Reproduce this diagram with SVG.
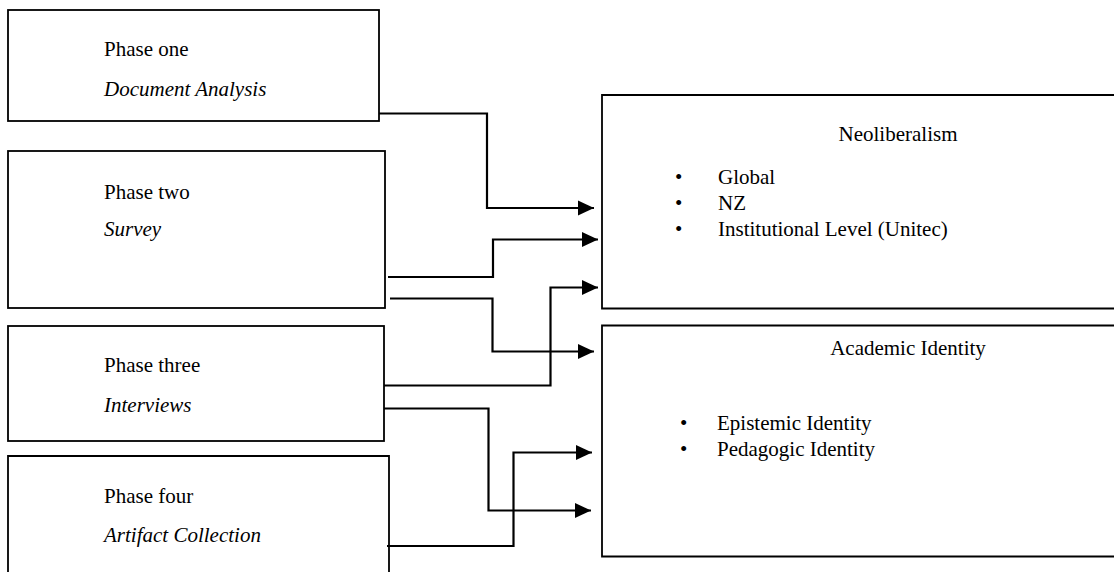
<svg xmlns="http://www.w3.org/2000/svg" width="1114" height="572" viewBox="0 0 1114 572">
<style>
.box{fill:#fff;stroke:#000;stroke-width:1.8}
.t{font-family:"Liberation Serif","Times New Roman",serif;font-size:21px;fill:#000}
.i{font-style:italic}
.c{fill:none;stroke:#000;stroke-width:2.2}
</style>
<defs>
<marker id="ah" markerWidth="16" markerHeight="16" refX="16" refY="8" orient="auto" markerUnits="userSpaceOnUse">
<path d="M0,0.5 L16,8 L0,15.5 Z" fill="#000"/>
</marker>
</defs>
<rect width="1114" height="572" fill="#fff"/>
<g id="phase1">
<rect class="box" x="8" y="10" width="371" height="111"/>
<text class="t" x="104" y="56">Phase one</text>
<text class="t i" x="104" y="96">Document Analysis</text>
</g>
<g id="phase2">
<rect class="box" x="8" y="151" width="377" height="157"/>
<text class="t" x="104" y="199">Phase two</text>
<text class="t i" x="104" y="236">Survey</text>
</g>
<g id="phase3">
<rect class="box" x="8" y="326" width="376" height="115"/>
<text class="t" x="104" y="372">Phase three</text>
<text class="t i" x="104" y="412">Interviews</text>
</g>
<g id="phase4">
<path class="box" d="M8,580 L8,456 L389,456 L389,580"/>
<text class="t" x="104" y="503">Phase four</text>
<text class="t i" x="104" y="542">Artifact Collection</text>
</g>
<g id="neoliberalism">
<path class="box" d="M1120,95 L602,95 L602,308.5 L1120,308.5"/>
<text class="t" x="898" y="141" text-anchor="middle">Neoliberalism</text>
<text class="t" x="675" y="184">•</text>
<text class="t" x="718" y="184">Global</text>
<text class="t" x="675" y="210">•</text>
<text class="t" x="718" y="210">NZ</text>
<text class="t" x="675" y="236">•</text>
<text class="t" x="718" y="236">Institutional Level (Unitec)</text>
</g>
<g id="academic-identity">
<path class="box" d="M1120,325.5 L602,325.5 L602,556.5 L1120,556.5"/>
<text class="t" x="908" y="355" text-anchor="middle">Academic Identity</text>
<text class="t" x="680" y="430">•</text>
<text class="t" x="717" y="430">Epistemic Identity</text>
<text class="t" x="680" y="456">•</text>
<text class="t" x="717" y="456">Pedagogic Identity</text>
</g>
<g id="connectors">
<path class="c" marker-end="url(#ah)" d="M379,113.5 L487,113.5 L487,208 L594,208"/>
<path class="c" marker-end="url(#ah)" d="M388,277 L493,277 L493,239.5 L598,239.5"/>
<path class="c" marker-end="url(#ah)" d="M390,298.5 L492.5,298.5 L492.5,351.5 L594,351.5"/>
<path class="c" marker-end="url(#ah)" d="M384,385.5 L550.5,385.5 L550.5,287.5 L598,287.5"/>
<path class="c" marker-end="url(#ah)" d="M384,408.5 L488.5,408.5 L488.5,510.5 L591,510.5"/>
<path class="c" marker-end="url(#ah)" d="M387,546 L513.5,546 L513.5,452.5 L592,452.5"/>
</g>
</svg>
